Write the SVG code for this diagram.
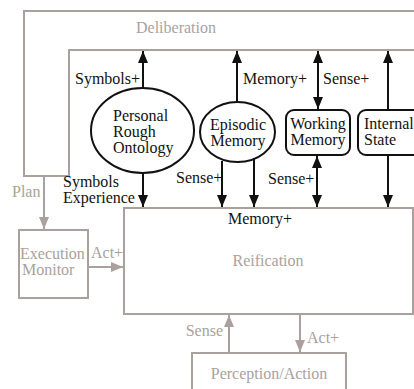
<svg xmlns="http://www.w3.org/2000/svg" width="414" height="389" viewBox="0 0 414 389">
<defs>
<style>
.g{fill:none;stroke:#aaa19e;stroke-width:2}
.k{fill:none;stroke:#111;stroke-width:2}
text{font-family:'Liberation Serif','Times New Roman','DejaVu Serif',serif;font-size:16px}
.tk{fill:#111}
.tg{fill:#aaa19e}
</style>
<marker id="ak" markerUnits="userSpaceOnUse" markerWidth="13" markerHeight="11" refX="12" refY="5" orient="auto-start-reverse"><path d="M0,0 L12,5 L0,10 z" fill="#111"/></marker>
<marker id="ag" markerUnits="userSpaceOnUse" markerWidth="13" markerHeight="11" refX="12" refY="5" orient="auto-start-reverse"><path d="M0,0 L12,5 L0,10 z" fill="#aaa19e"/></marker>
</defs>
<rect width="414" height="389" fill="#fff"/>
<g font-family="Liberation Serif, Times New Roman, serif" font-size="16">
<g id="deliberation">
<path class="g" d="M420,11 H24 V176 H69 V50 H420"/>
<text class="tg" x="176" y="33" text-anchor="middle">Deliberation</text>
</g>
<g id="ontology">
<ellipse class="k" cx="142.5" cy="130.5" rx="51.5" ry="42.5"/>
<text class="tk" x="113" y="121">Personal</text>
<text class="tk" x="113" y="137">Rough</text>
<text class="tk" x="113" y="153">Ontology</text>
</g>
<g id="episodic">
<ellipse class="k" cx="237.5" cy="132" rx="37.5" ry="30"/>
<text class="tk" x="238" y="130" text-anchor="middle">Episodic</text>
<text class="tk" x="238" y="146" text-anchor="middle">Memory</text>
</g>
<g id="working">
<rect class="k" x="286" y="110" width="64" height="45" rx="8"/>
<text class="tk" x="318" y="129" text-anchor="middle">Working</text>
<text class="tk" x="318" y="145" text-anchor="middle">Memory</text>
</g>
<g id="internal">
<rect class="k" x="358" y="110" width="64" height="45" rx="8"/>
<text class="tk" x="364" y="129">Internal</text>
<text class="tk" x="364" y="145">State</text>
</g>
<g id="execution">
<rect class="g" x="19" y="230" width="69" height="68"/>
<text class="tg" x="20" y="259">Execution</text>
<text class="tg" x="22" y="275">Monitor</text>
</g>
<g id="reification">
<rect class="g" x="124" y="208" width="289" height="106"/>
<text class="tk" x="260" y="224" text-anchor="middle">Memory+</text>
<text class="tg" x="268" y="266" text-anchor="middle">Reification</text>
</g>
<g id="perception">
<rect class="g" x="192" y="353" width="154" height="40"/>
<text class="tg" x="269" y="379" text-anchor="middle">Perception/Action</text>
</g>
<g id="connectors">
<line class="k" x1="143" y1="88" x2="143" y2="51" marker-end="url(#ak)"/>
<line class="k" x1="143" y1="173" x2="143" y2="207" marker-end="url(#ak)"/>
<line class="k" x1="237" y1="102" x2="237" y2="51" marker-end="url(#ak)"/>
<line class="k" x1="222" y1="161" x2="222" y2="207" marker-end="url(#ak)"/>
<line class="k" x1="254" y1="158" x2="254" y2="207" marker-end="url(#ak)"/>
<line class="k" x1="318" y1="51" x2="318" y2="109" marker-start="url(#ak)" marker-end="url(#ak)"/>
<line class="k" x1="317" y1="156" x2="317" y2="207" marker-start="url(#ak)" marker-end="url(#ak)"/>
<line class="k" x1="388" y1="110" x2="388" y2="51" marker-end="url(#ak)"/>
<line class="k" x1="388" y1="155" x2="388" y2="207" marker-end="url(#ak)"/>
<line class="g" x1="44" y1="177" x2="44" y2="229" marker-end="url(#ag)"/>
<line class="g" x1="89" y1="267" x2="123" y2="267" marker-end="url(#ag)"/>
<line class="g" x1="229" y1="352" x2="229" y2="315" marker-end="url(#ag)"/>
<line class="g" x1="300" y1="315" x2="300" y2="352" marker-end="url(#ag)"/>
<text class="tk" x="75" y="84">Symbols+</text>
<text class="tk" x="243" y="84">Memory+</text>
<text class="tk" x="323" y="84">Sense+</text>
<text class="tk" x="63" y="187">Symbols</text>
<text class="tk" x="63" y="203">Experience</text>
<text class="tk" x="176" y="183">Sense+</text>
<text class="tk" x="268" y="184">Sense+</text>
<text class="tg" x="12" y="197">Plan</text>
<text class="tg" x="91" y="258">Act+</text>
<text class="tg" x="223" y="336" text-anchor="end">Sense</text>
<text class="tg" x="307" y="343">Act+</text>
</g>
</g>
</svg>
